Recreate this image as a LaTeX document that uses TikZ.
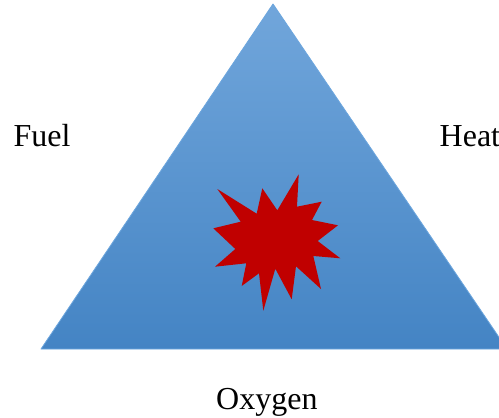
\documentclass[tikz,border=0pt]{standalone}
\usepackage{fontspec}
\setmainfont{Liberation Serif}
\definecolor{triTop}{HTML}{71A6DB}
\definecolor{triMid}{HTML}{5A9BDB}
\definecolor{triBot}{HTML}{4484C4}
\definecolor{triEdge}{HTML}{6CA6DE}
\definecolor{burst}{HTML}{C00000}
\tikzset{
  lbl/.style={inner sep=0pt,font=\fontsize{32}{36}\selectfont,text=black,anchor=base west},
  triangleshape/.style={top color=triTop,middle color=triMid,bottom color=triBot,draw=triEdge,line width=0.8pt,line join=round},
  burstshape/.style={fill=burst,draw=none}
}
\begin{document}
\begin{tikzpicture}[x=1pt,y=-1pt]
\useasboundingbox (0,0) rectangle (499,418);
\clip (0,0) rectangle (499,418);
\fill[white] (0,0) rectangle (499,418);
\path[triangleshape] (273,4) -- (507,349) -- (41,349) -- cycle;
\path[burstshape] (298.7,174.3) -- (297,206.7) -- (321.7,201.7) -- (312,220) -- (338,225.3) -- (317.7,241) -- (340.3,258.3) -- (313.3,256) -- (321,289) -- (296,266.3) -- (291.7,299.3) -- (275.3,268.7) -- (263.3,310.7) -- (259,273.3) -- (241.7,286) -- (246.3,263.3) -- (215,266.7) -- (235.3,249) -- (213.3,228.3) -- (240.7,221.7) -- (217.3,189) -- (256.7,213.7) -- (262.3,188.3) -- (277.3,210.3) -- cycle;
\node[lbl] (fuel) at (13.5,146) {Fuel};
\node[lbl] (heat) at (439.5,146) {Heat};
\node[lbl] (oxygen) at (216,409) {Oxygen};
\end{tikzpicture}
\end{document}
